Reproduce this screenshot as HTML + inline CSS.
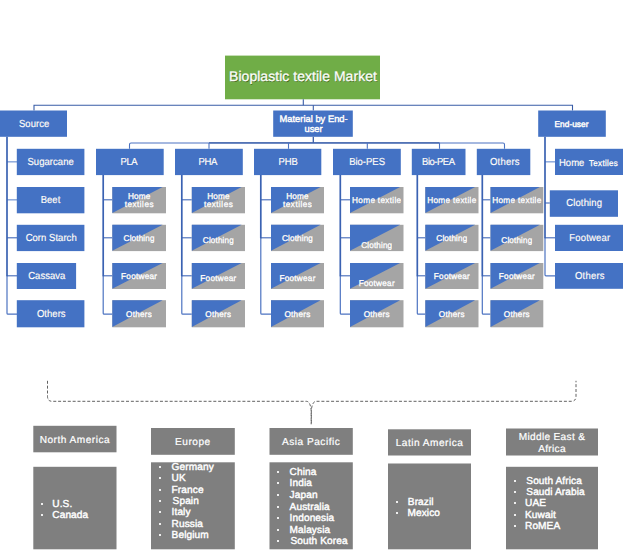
<!DOCTYPE html>
<html lang="en">
<head>
<meta charset="utf-8">
<title>Bioplastic textile Market</title>
<style>
html,body{margin:0;padding:0;background:#fff;}
body{width:624px;height:552px;position:relative;overflow:hidden;font-family:"Liberation Sans",Arial,sans-serif;color:#fff;text-rendering:geometricPrecision;}
svg{position:absolute;left:0;top:0;}
.t{position:absolute;display:flex;align-items:center;justify-content:center;text-align:center;white-space:nowrap;line-height:1.1;}
.t span{display:inline-block;}
.title{text-shadow:0.6px 0.6px 0.3px rgba(40,60,10,.6);-webkit-text-stroke:0.25px #fff;}
.b{text-shadow:0.4px 0.4px 0.3px rgba(20,40,100,.5);font-size:10.2px !important;-webkit-text-stroke:0.2px #fff;}
.b span{transform:scale(0.94,1);position:relative;top:1px;left:0.3px;}
.m{-webkit-text-stroke:0.45px #fff;text-shadow:0.4px 0.4px 0.3px rgba(20,40,100,.5);}
.c{-webkit-text-stroke:0.35px #fff;text-shadow:0.4px 0.4px 0.3px rgba(40,40,60,.5);}
.rh{position:absolute;font-size:10.1px;-webkit-text-stroke:0.2px #fff;letter-spacing:0.5px;}
.rh span{position:absolute;left:0;right:0;height:12px;line-height:12px;text-align:center;white-space:nowrap;}
.l{position:absolute;margin:0;padding:0;list-style:none;font-size:10.1px;-webkit-text-stroke:0.4px #fff;letter-spacing:0.1px;}
.l li{position:absolute;height:12px;line-height:12px;white-space:nowrap;}
.l li b{position:absolute;width:2px;height:2px;background:#fff;opacity:.88;}
.tx{font-style:normal;letter-spacing:0.45px;margin-right:-0.45px;}
.sm{font-style:normal;font-size:8.6px;letter-spacing:0.3px;margin-left:2px;-webkit-text-stroke:0.3px #fff;}
</style>
</head>
<body>
<svg width="624" height="552" viewBox="0 0 624 552">
<rect x="225" y="55.6" width="155" height="43.7" fill="#70AD47"/>
<path d="M34 110.5 L34 105.3 L572.5 105.3 L572.5 110.5" fill="none" stroke="#385CA6" stroke-width="1.1" />
<path d="M303.3 99.3 L303.3 105.3" fill="none" stroke="#385CA6" stroke-width="1.1" />
<path d="M313.3 105.3 L313.3 110.5" fill="none" stroke="#385CA6" stroke-width="1.1" />
<path d="M313.3 136.7 L313.3 142.7" fill="none" stroke="#385CA6" stroke-width="1.3" />
<rect x="0" y="110.5" width="67" height="26.3" fill="#4472C4"/>
<rect x="273.2" y="110.5" width="79.6" height="26.3" fill="#4472C4"/>
<rect x="538.2" y="110.5" width="67.6" height="26.3" fill="#4472C4"/>
<path d="M7 161.8 L17 161.8" fill="none" stroke="#8FAADC" stroke-width="1.5" />
<path d="M7 199.8 L17 199.8" fill="none" stroke="#8FAADC" stroke-width="1.5" />
<path d="M7 237.8 L17 237.8" fill="none" stroke="#4268B8" stroke-width="1.1" />
<path d="M7 275.8 L17 275.8" fill="none" stroke="#4268B8" stroke-width="1.1" />
<path d="M7 275.8 L7 313.2 Q7 314.2 8 314.2 L17 314.2" fill="none" stroke="#4C73C1" stroke-width="1.2" />
<path d="M7 136.8 L7 276.3" fill="none" stroke="#3A62B2" stroke-width="1.7" />
<rect x="16.8" y="148.8" width="67.6" height="26.3" fill="#4472C4"/>
<rect x="16.8" y="187" width="67.6" height="26.3" fill="#4472C4"/>
<rect x="16.8" y="224.8" width="67.6" height="26.3" fill="#4472C4"/>
<rect x="16.8" y="263" width="59.3" height="26" fill="#4472C4"/>
<rect x="16.8" y="300.2" width="67.6" height="27.1" fill="#4472C4"/>
<path d="M129.5 148.8 L129.5 144.5 Q129.5 143 131 143 L503 143 Q504.5 143 504.5 144.5 L504.5 148.8" fill="none" stroke="#4C73C1" stroke-width="1.1" />
<path d="M209 142.9 L439.5 142.9" fill="none" stroke="#385CA6" stroke-width="1.3" />
<rect x="96" y="148.8" width="67.7" height="26.3" fill="#4472C4"/>
<path d="M103.2 199.8 L112.3 199.8" fill="none" stroke="#4268B8" stroke-width="1.1" />
<path d="M103.2 237.8 L112.3 237.8" fill="none" stroke="#4268B8" stroke-width="1.1" />
<path d="M103.2 275.8 L112.3 275.8" fill="none" stroke="#4268B8" stroke-width="1.1" />
<path d="M103.2 275.8 L103.2 313.2 Q103.2 314.2 104.2 314.2 L112.3 314.2" fill="none" stroke="#4C73C1" stroke-width="1.2" />
<path d="M103.2 175 L103.2 276.3" fill="none" stroke="#3A62B2" stroke-width="1.7" />
<rect x="112.3" y="187" width="53.7" height="26.3" fill="#A5A5A5"/>
<path d="M112.3 187 L162.6 187 L112.3 213.0 Z" fill="#4472C4"/>
<rect x="112.3" y="224.8" width="53.7" height="26.3" fill="#A5A5A5"/>
<path d="M112.3 224.8 L162.6 224.8 L112.3 250.8 Z" fill="#4472C4"/>
<rect x="112.3" y="263" width="53.7" height="26" fill="#A5A5A5"/>
<path d="M112.3 263 L162.6 263 L112.3 288.7 Z" fill="#4472C4"/>
<rect x="112.3" y="300.2" width="53.7" height="27.1" fill="#A5A5A5"/>
<path d="M112.3 300.2 L162.6 300.2 L112.3 327.0 Z" fill="#4472C4"/>
<path d="M209 143 L209 148.8" fill="none" stroke="#4C73C1" stroke-width="1.1" />
<rect x="175" y="148.8" width="67.8" height="26.3" fill="#4472C4"/>
<path d="M181.8 199.8 L191.8 199.8" fill="none" stroke="#4268B8" stroke-width="1.1" />
<path d="M181.8 237.8 L191.8 237.8" fill="none" stroke="#4268B8" stroke-width="1.1" />
<path d="M181.8 275.8 L191.8 275.8" fill="none" stroke="#4268B8" stroke-width="1.1" />
<path d="M181.8 275.8 L181.8 313.2 Q181.8 314.2 182.8 314.2 L191.8 314.2" fill="none" stroke="#4C73C1" stroke-width="1.2" />
<path d="M181.8 175 L181.8 276.3" fill="none" stroke="#3A62B2" stroke-width="1.7" />
<rect x="191.8" y="187" width="53.2" height="26.3" fill="#A5A5A5"/>
<path d="M191.8 187 L241.6 187 L191.8 213.0 Z" fill="#4472C4"/>
<rect x="191.8" y="224.8" width="53.2" height="26.3" fill="#A5A5A5"/>
<path d="M191.8 224.8 L241.6 224.8 L191.8 250.8 Z" fill="#4472C4"/>
<rect x="191.8" y="263" width="53.2" height="26" fill="#A5A5A5"/>
<path d="M191.8 263 L241.6 263 L191.8 288.7 Z" fill="#4472C4"/>
<rect x="191.8" y="300.2" width="53.2" height="27.1" fill="#A5A5A5"/>
<path d="M191.8 300.2 L241.6 300.2 L191.8 327.0 Z" fill="#4472C4"/>
<path d="M288.5 143 L288.5 148.8" fill="none" stroke="#4C73C1" stroke-width="1.1" />
<rect x="254" y="148.8" width="67.3" height="26.3" fill="#4472C4"/>
<path d="M260.8 199.8 L271 199.8" fill="none" stroke="#4268B8" stroke-width="1.1" />
<path d="M260.8 237.8 L271 237.8" fill="none" stroke="#4268B8" stroke-width="1.1" />
<path d="M260.8 237.8 L260.8 313.2 Q260.8 314.2 261.8 314.2 L271 314.2" fill="none" stroke="#4C73C1" stroke-width="1.2" />
<path d="M260.8 175 L260.8 238.3" fill="none" stroke="#3A62B2" stroke-width="1.7" />
<rect x="271" y="187" width="53" height="26.3" fill="#A5A5A5"/>
<path d="M271 187 L320.6 187 L271 213.0 Z" fill="#4472C4"/>
<rect x="271" y="224.8" width="53" height="26.3" fill="#A5A5A5"/>
<path d="M271 224.8 L320.6 224.8 L271 250.8 Z" fill="#4472C4"/>
<rect x="271" y="263" width="53" height="26" fill="#A5A5A5"/>
<path d="M271 263 L320.6 263 L271 288.7 Z" fill="#4472C4"/>
<rect x="271" y="300.2" width="53" height="27.1" fill="#A5A5A5"/>
<path d="M271 300.2 L320.6 300.2 L271 327.0 Z" fill="#4472C4"/>
<path d="M367.3 143 L367.3 148.8" fill="none" stroke="#4C73C1" stroke-width="1.1" />
<rect x="333" y="148.8" width="67.8" height="26.3" fill="#4472C4"/>
<path d="M340.3 199.8 L350 199.8" fill="none" stroke="#4268B8" stroke-width="1.1" />
<path d="M340.3 237.8 L350 237.8" fill="none" stroke="#4268B8" stroke-width="1.1" />
<path d="M340.3 275.8 L350 275.8" fill="none" stroke="#4268B8" stroke-width="1.1" />
<path d="M340.3 275.8 L340.3 313.2 Q340.3 314.2 341.3 314.2 L350 314.2" fill="none" stroke="#4C73C1" stroke-width="1.2" />
<path d="M340.3 175 L340.3 276.3" fill="none" stroke="#3A62B2" stroke-width="1.7" />
<rect x="350" y="187" width="53.5" height="26.3" fill="#A5A5A5"/>
<path d="M350 187 L400.1 187 L350 213.0 Z" fill="#4472C4"/>
<rect x="350" y="224.8" width="53.5" height="26.3" fill="#A5A5A5"/>
<path d="M350 224.8 L400.1 224.8 L350 250.8 Z" fill="#4472C4"/>
<rect x="350" y="263" width="53.5" height="26" fill="#A5A5A5"/>
<path d="M350 263 L400.1 263 L350 288.7 Z" fill="#4472C4"/>
<rect x="350" y="300.2" width="53.5" height="27.1" fill="#A5A5A5"/>
<path d="M350 300.2 L400.1 300.2 L350 327.0 Z" fill="#4472C4"/>
<path d="M439.5 143 L439.5 148.8" fill="none" stroke="#4C73C1" stroke-width="1.1" />
<rect x="411.8" y="148.8" width="53.7" height="26.3" fill="#4472C4"/>
<path d="M417.3 237.8 L425.3 237.8" fill="none" stroke="#4268B8" stroke-width="1.1" />
<path d="M417.3 275.8 L425.3 275.8" fill="none" stroke="#4268B8" stroke-width="1.1" />
<path d="M417.3 275.8 L417.3 313.2 Q417.3 314.2 418.3 314.2 L425.3 314.2" fill="none" stroke="#4C73C1" stroke-width="1.2" />
<path d="M417.3 175 L417.3 276.3" fill="none" stroke="#3A62B2" stroke-width="1.7" />
<rect x="425.3" y="187" width="53.2" height="26.3" fill="#A5A5A5"/>
<path d="M425.3 187 L475.1 187 L425.3 213.0 Z" fill="#4472C4"/>
<rect x="425.3" y="224.8" width="53.2" height="26.3" fill="#A5A5A5"/>
<path d="M425.3 224.8 L475.1 224.8 L425.3 250.8 Z" fill="#4472C4"/>
<rect x="425.3" y="263" width="53.2" height="26" fill="#A5A5A5"/>
<path d="M425.3 263 L475.1 263 L425.3 288.7 Z" fill="#4472C4"/>
<rect x="425.3" y="300.2" width="53.2" height="27.1" fill="#A5A5A5"/>
<path d="M425.3 300.2 L475.1 300.2 L425.3 327.0 Z" fill="#4472C4"/>
<rect x="476.8" y="148.8" width="53.5" height="26.3" fill="#4472C4"/>
<path d="M482.3 199.8 L490.5 199.8" fill="none" stroke="#4268B8" stroke-width="1.1" />
<path d="M482.3 237.8 L490.5 237.8" fill="none" stroke="#4268B8" stroke-width="1.1" />
<path d="M482.3 275.8 L490.5 275.8" fill="none" stroke="#4268B8" stroke-width="1.1" />
<path d="M482.3 275.8 L482.3 313.2 Q482.3 314.2 483.3 314.2 L490.5 314.2" fill="none" stroke="#4C73C1" stroke-width="1.2" />
<path d="M482.3 175 L482.3 276.3" fill="none" stroke="#3A62B2" stroke-width="1.7" />
<rect x="490.5" y="187" width="52.8" height="26.3" fill="#A5A5A5"/>
<path d="M490.5 187 L539.9 187 L490.5 213.0 Z" fill="#4472C4"/>
<rect x="490.5" y="224.8" width="52.8" height="26.3" fill="#A5A5A5"/>
<path d="M490.5 224.8 L539.9 224.8 L490.5 250.8 Z" fill="#4472C4"/>
<rect x="490.5" y="263" width="52.8" height="26" fill="#A5A5A5"/>
<path d="M490.5 263 L539.9 263 L490.5 288.7 Z" fill="#4472C4"/>
<rect x="490.5" y="300.2" width="52.8" height="27.1" fill="#A5A5A5"/>
<path d="M490.5 300.2 L539.9 300.2 L490.5 327.0 Z" fill="#4472C4"/>
<path d="M545 161.8 L555 161.8" fill="none" stroke="#8FAADC" stroke-width="1.5" />
<path d="M545 203 L549.8 203" fill="none" stroke="#4268B8" stroke-width="1.1" />
<path d="M545 237.8 L555 237.8" fill="none" stroke="#4268B8" stroke-width="1.1" />
<path d="M545 237.8 L545 274.8 Q545 275.8 546 275.8 L555 275.8" fill="none" stroke="#4C73C1" stroke-width="1.2" />
<path d="M545 136.8 L545 238.3" fill="none" stroke="#3A62B2" stroke-width="1.7" />
<rect x="555" y="148.8" width="68" height="26.2" fill="#4472C4"/>
<rect x="549.8" y="190.3" width="68.2" height="26.5" fill="#4472C4"/>
<rect x="555" y="224.8" width="68" height="26.2" fill="#4472C4"/>
<rect x="555" y="263" width="68" height="25.8" fill="#4472C4"/>
<path d="M47.5 380.8 L47.5 396.5 Q47.7 401.3 52 401.3 L306.5 401.3 Q310.3 401.5 311.2 410.5 L311.2 424.3" fill="none" stroke="#3a3a3a" stroke-width="0.8" stroke-dasharray="3 1.85"/>
<path d="M576 380.8 L576 396.5 Q575.8 401.3 571.5 401.3 L316 401.3 Q312.2 401.5 311.3 410.5 L311.3 424.3" fill="none" stroke="#3a3a3a" stroke-width="0.8" stroke-dasharray="3 1.85" stroke-dashoffset="1.5"/>
<rect x="33.3" y="425.8" width="83.2" height="26.5" fill="#7F7F7F"/>
<rect x="33.3" y="466.8" width="83.2" height="82.5" fill="#7F7F7F"/>
<rect x="151" y="428" width="83.8" height="26.8" fill="#7F7F7F"/>
<rect x="151" y="462.3" width="83.8" height="87.0" fill="#7F7F7F"/>
<rect x="269.5" y="428" width="83.3" height="26.8" fill="#7F7F7F"/>
<rect x="269.5" y="462.3" width="83.3" height="87.0" fill="#7F7F7F"/>
<rect x="388" y="429.3" width="83" height="26.2" fill="#7F7F7F"/>
<rect x="388" y="463.5" width="83" height="85.8" fill="#7F7F7F"/>
<rect x="506" y="428.5" width="92" height="27.0" fill="#7F7F7F"/>
<rect x="506" y="466.8" width="92" height="82.5" fill="#7F7F7F"/>
</svg>
<div class="t title" style="left:225.5px;top:54.6px;width:155px;height:43.7px;font-size:14px;letter-spacing:0.03px;"><span>Bioplastic textile Market</span></div>
<div class="t b" style="left:0.5px;top:110.7px;width:67px;height:26.3px;font-size:9.6px;"><span>Source</span></div>
<div class="t m" style="left:273.8px;top:110.5px;width:79.6px;height:26.3px;font-size:9.4px;line-height:10px;"><span>Material by End-<br>user</span></div>
<div class="t m" style="left:537.7px;top:111.5px;width:67.6px;height:26.3px;font-size:8.4px;"><span>End-user</span></div>
<div class="t b" style="left:16.8px;top:148.8px;width:67.6px;height:26.3px;font-size:9.6px;"><span>Sugarcane</span></div>
<div class="t b" style="left:16.8px;top:186px;width:67.6px;height:26.3px;font-size:9.6px;"><span>Beet</span></div>
<div class="t b" style="left:16.8px;top:224.8px;width:67.6px;height:26.3px;font-size:9.6px;"><span>Corn Starch</span></div>
<div class="t b" style="left:16.8px;top:263px;width:59.3px;height:26px;font-size:9.6px;"><span>Cassava</span></div>
<div class="t b" style="left:16.8px;top:300.2px;width:67.6px;height:27.1px;font-size:9.6px;"><span>Others</span></div>
<div class="t b" style="left:95.1px;top:148.8px;width:67.7px;height:26.3px;font-size:9.6px;letter-spacing:-0.5px;"><span>PLA</span></div>
<div class="t c" style="left:112.3px;top:187px;width:53.7px;height:26.3px;font-size:8.3px;line-height:8px;letter-spacing:0.08px;"><span>Home<br><i class="tx">textiles</i></span></div>
<div class="t c" style="left:112.3px;top:224.8px;width:53.7px;height:26.3px;font-size:8.3px;line-height:8px;letter-spacing:0.08px;"><span>Clothing</span></div>
<div class="t c" style="left:112.3px;top:263px;width:53.7px;height:26px;font-size:8.3px;line-height:8px;letter-spacing:0.2px;"><span>Footwear</span></div>
<div class="t c" style="left:112.3px;top:300.2px;width:53.7px;height:27.1px;font-size:8.3px;line-height:8px;letter-spacing:0.2px;"><span>Others</span></div>
<div class="t b" style="left:173.4px;top:148.8px;width:67.8px;height:26.3px;font-size:9.6px;letter-spacing:-0.5px;"><span>PHA</span></div>
<div class="t c" style="left:191.8px;top:187px;width:53.2px;height:26.3px;font-size:8.3px;line-height:8px;letter-spacing:0.08px;"><span>Home<br><i class="tx">textiles</i></span></div>
<div class="t c" style="left:191.8px;top:226.8px;width:53.2px;height:26.3px;font-size:8.3px;line-height:8px;letter-spacing:0.08px;"><span>Clothing</span></div>
<div class="t c" style="left:191.8px;top:265px;width:53.2px;height:26px;font-size:8.3px;line-height:8px;letter-spacing:0.2px;"><span>Footwear</span></div>
<div class="t c" style="left:191.8px;top:300.2px;width:53.2px;height:27.1px;font-size:8.3px;line-height:8px;letter-spacing:0.2px;"><span>Others</span></div>
<div class="t b" style="left:254.4px;top:148.8px;width:67.3px;height:26.3px;font-size:9.6px;letter-spacing:-0.2px;"><span>PHB</span></div>
<div class="t c" style="left:271px;top:187px;width:53px;height:26.3px;font-size:8.3px;line-height:8px;letter-spacing:0.08px;"><span>Home<br><i class="tx">textiles</i></span></div>
<div class="t c" style="left:271px;top:224.8px;width:53px;height:26.3px;font-size:8.3px;line-height:8px;letter-spacing:0.08px;"><span>Clothing</span></div>
<div class="t c" style="left:271px;top:265px;width:53px;height:26px;font-size:8.3px;line-height:8px;letter-spacing:0.2px;"><span>Footwear</span></div>
<div class="t c" style="left:271px;top:300.2px;width:53px;height:27.1px;font-size:8.3px;line-height:8px;letter-spacing:0.2px;"><span>Others</span></div>
<div class="t b" style="left:332.6px;top:148.8px;width:67.8px;height:26.3px;font-size:9.6px;letter-spacing:-0.05px;"><span>Bio-PES</span></div>
<div class="t c" style="left:350px;top:187px;width:53.5px;height:26.3px;font-size:8.3px;line-height:8px;letter-spacing:0.27px;"><span>Home textile</span></div>
<div class="t c" style="left:350px;top:231.8px;width:53.5px;height:26.3px;font-size:8.3px;line-height:8px;letter-spacing:0.08px;"><span>Clothing</span></div>
<div class="t c" style="left:350px;top:270px;width:53.5px;height:26px;font-size:8.3px;line-height:8px;letter-spacing:0.2px;"><span>Footwear</span></div>
<div class="t c" style="left:350px;top:300.2px;width:53.5px;height:27.1px;font-size:8.3px;line-height:8px;letter-spacing:0.2px;"><span>Others</span></div>
<div class="t b" style="left:411.5px;top:148.8px;width:53.7px;height:26.3px;font-size:9.6px;letter-spacing:-0.55px;"><span>Bio-PEA</span></div>
<div class="t c" style="left:425.3px;top:187px;width:53.2px;height:26.3px;font-size:8.3px;line-height:8px;letter-spacing:0.27px;"><span>Home textile</span></div>
<div class="t c" style="left:425.3px;top:224.8px;width:53.2px;height:26.3px;font-size:8.3px;line-height:8px;letter-spacing:0.08px;"><span>Clothing</span></div>
<div class="t c" style="left:425.3px;top:263px;width:53.2px;height:26px;font-size:8.3px;line-height:8px;letter-spacing:0.2px;"><span>Footwear</span></div>
<div class="t c" style="left:425.3px;top:300.2px;width:53.2px;height:27.1px;font-size:8.3px;line-height:8px;letter-spacing:0.2px;"><span>Others</span></div>
<div class="t b" style="left:477.4px;top:148.8px;width:53.5px;height:26.3px;font-size:9.6px;letter-spacing:0.2px;"><span>Others</span></div>
<div class="t c" style="left:490.5px;top:187px;width:52.8px;height:26.3px;font-size:8.3px;line-height:8px;letter-spacing:0.27px;"><span>Home textile</span></div>
<div class="t c" style="left:490.5px;top:226.8px;width:52.8px;height:26.3px;font-size:8.3px;line-height:8px;letter-spacing:0.08px;"><span>Clothing</span></div>
<div class="t c" style="left:490.5px;top:263px;width:52.8px;height:26px;font-size:8.3px;line-height:8px;letter-spacing:0.2px;"><span>Footwear</span></div>
<div class="t c" style="left:490.5px;top:300.2px;width:52.8px;height:27.1px;font-size:8.3px;line-height:8px;letter-spacing:0.2px;"><span>Others</span></div>
<div class="t b" style="left:553.8px;top:149.8px;width:68px;height:26.2px;font-size:9.6px;"><span>Home <i class="sm">Textiles</i></span></div>
<div class="t b" style="left:550.1px;top:189.3px;width:68.2px;height:26.5px;font-size:9.6px;letter-spacing:0.12px;"><span>Clothing</span></div>
<div class="t b" style="left:555.4px;top:224.8px;width:68px;height:26.2px;font-size:9.6px;letter-spacing:0.15px;"><span>Footwear</span></div>
<div class="t b" style="left:555.2px;top:263px;width:68px;height:25.8px;font-size:9.6px;letter-spacing:0.2px;"><span>Others</span></div>
<div class="rh" style="left:33.3px;top:425.8px;width:83.2px;height:26.5px;"><span style="top:8.95px">North America</span></div>
<ul class="l" style="left:33.3px;top:466.8px;width:83.2px;height:82.5px;"><li style="top:32.2px;left:19.0px"><b style="left:-11.3px;top:4.0px"></b>U.S.</li><li style="top:43.2px;left:19.0px"><b style="left:-11.3px;top:4.0px"></b>Canada</li></ul>
<div class="rh" style="left:151px;top:428px;width:83.8px;height:26.8px;"><span style="top:8.75px">Europe</span></div>
<ul class="l" style="left:151px;top:462.3px;width:83.8px;height:87.0px;"><li style="top:-0.3px;left:20.6px"><b style="left:-12.6px;top:4.0px"></b>Germany</li><li style="top:10.7px;left:20.6px"><b style="left:-12.6px;top:4.0px"></b>UK</li><li style="top:22.7px;left:20.6px"><b style="left:-12.6px;top:4.0px"></b>France</li><li style="top:33.7px;left:21.6px"><b style="left:-13.6px;top:4.0px"></b>Spain</li><li style="top:44.7px;left:20.6px"><b style="left:-12.6px;top:4.0px"></b>Italy</li><li style="top:56.7px;left:20.6px"><b style="left:-12.6px;top:4.0px"></b>Russia</li><li style="top:67.7px;left:20.6px"><b style="left:-12.6px;top:4.0px"></b>Belgium</li></ul>
<div class="rh" style="left:269.5px;top:428px;width:83.3px;height:26.8px;"><span style="top:8.75px">Asia Pacific</span></div>
<ul class="l" style="left:269.5px;top:462.3px;width:83.3px;height:87.0px;"><li style="top:4.7px;left:20.1px"><b style="left:-12.6px;top:4.0px"></b>China</li><li style="top:15.7px;left:20.1px"><b style="left:-12.6px;top:4.0px"></b>India</li><li style="top:27.7px;left:20.1px"><b style="left:-12.6px;top:4.0px"></b>Japan</li><li style="top:39.7px;left:20.1px"><b style="left:-12.6px;top:4.0px"></b>Australia</li><li style="top:50.7px;left:20.1px"><b style="left:-12.6px;top:4.0px"></b>Indonesia</li><li style="top:62.7px;left:20.1px"><b style="left:-12.6px;top:4.0px"></b>Malaysia</li><li style="top:73.7px;left:20.9px"><b style="left:-13.4px;top:4.0px"></b>South Korea</li></ul>
<div class="rh" style="left:388px;top:429.3px;width:83px;height:26.2px;"><span style="top:8.45px">Latin America</span></div>
<ul class="l" style="left:388px;top:463.5px;width:83px;height:85.8px;"><li style="top:33.5px;left:19.8px"><b style="left:-11.8px;top:4.0px"></b>Brazil</li><li style="top:44.5px;left:19.5px"><b style="left:-11.5px;top:4.0px"></b>Mexico</li></ul>
<div class="rh" style="left:506px;top:428.5px;width:92px;height:27.0px;letter-spacing:0.32px;"><span style="top:3.25px">Middle East &amp;</span><span style="top:15.6px">Africa</span></div>
<ul class="l" style="left:506px;top:466.8px;width:92px;height:82.5px;"><li style="top:9.2px;left:20.3px"><b style="left:-12.3px;top:4.0px"></b>South Africa</li><li style="top:20.2px;left:20.3px"><b style="left:-12.3px;top:4.0px"></b>Saudi Arabia</li><li style="top:31.2px;left:19.0px"><b style="left:-11.0px;top:4.0px"></b>UAE</li><li style="top:43.2px;left:19.0px"><b style="left:-11.0px;top:4.0px"></b>Kuwait</li><li style="top:54.2px;left:19.0px"><b style="left:-11.0px;top:4.0px"></b>RoMEA</li></ul>
</body>
</html>
